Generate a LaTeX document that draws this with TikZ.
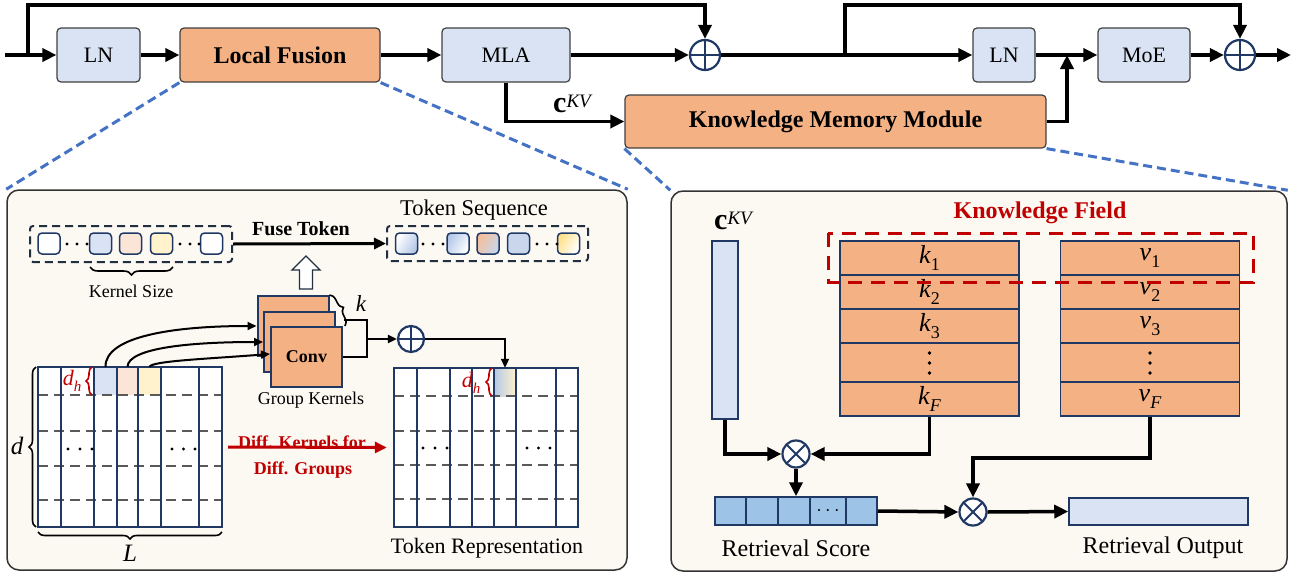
\RequirePackage{fix-cm}
\documentclass[tikz,border=0pt]{standalone}
\usepackage{fontspec}
\setmainfont{Liberation Serif}
\usetikzlibrary{arrows.meta,decorations.pathreplacing,calc}
\newcommand\myfs[1]{\fontsize{#1}{#1}\selectfont}
\newcommand\isub[3]{{\itshape #1}\raisebox{-0.28em}{\myfs{#3}#2}}
\newcommand\ckv[2]{{\bfseries\myfs{#1}c}\raisebox{0.42em}{\myfs{#2}\itshape KV}}
\definecolor{lorange}{HTML}{F4B183}
\definecolor{lblue}{HTML}{DAE3F3}
\definecolor{mblue}{HTML}{9DC3E6}
\definecolor{navy}{HTML}{1F3864}
\definecolor{panelbg}{HTML}{FCF8F2}
\definecolor{dred}{HTML}{C00000}
\definecolor{dblue}{HTML}{4472C4}
\definecolor{lpeach}{HTML}{FBE5D6}
\definecolor{lyellow}{HTML}{FFF2CC}
\definecolor{dgray}{HTML}{595959}
\definecolor{seqc}{HTML}{203040}
\definecolor{tblue}{HTML}{B4C7E7}
\definecolor{tblue2}{HTML}{C9D6EC}
\definecolor{tpeach}{HTML}{F5BE9B}
\definecolor{tyellow}{HTML}{FFE08A}
\begin{document}
\begin{tikzpicture}[x=1pt,y=-1pt,
  box/.style={draw=black!75, line width=1.2pt, rounded corners=4pt, inner sep=0pt, minimum height=54pt},
  bbox/.style={box, fill=lblue, font=\myfs{22}},
  obox/.style={box, fill=lorange, font=\bfseries\myfs{24}},
  fat/.style={line width=3.5pt, -{Triangle[length=14pt,width=13pt]}},
  med/.style={line width=3pt, -{Triangle[length=12pt,width=11pt]}},
  thinarr/.style={line width=2pt, -{Triangle[length=9pt,width=8pt]}},
  zoomline/.style={dblue, line width=3pt, dash pattern=on 9pt off 5pt},
  panel/.style={draw=black!80, line width=1.5pt, fill=panelbg, rounded corners=12pt, inner sep=0pt},
  oplus/.style={circle, draw=navy, line width=2.2pt, fill=white, inner sep=0pt, minimum size=#1,
    path picture={\draw[navy, line width=2.2pt] (path picture bounding box.north) -- (path picture bounding box.south) (path picture bounding box.west) -- (path picture bounding box.east);}},
  otimes/.style={circle, draw=navy, line width=2.2pt, fill=white, inner sep=0pt, minimum size=#1,
    path picture={\draw[navy, line width=2pt] (path picture bounding box.north west) -- (path picture bounding box.south east) (path picture bounding box.north east) -- (path picture bounding box.south west);}},
  tok/.style={draw=navy, line width=1.5pt, rounded corners=4pt, minimum width=22pt, minimum height=21pt, inner sep=0pt},
  seqbox/.style={draw=seqc, line width=2pt, dash pattern=on 8pt off 5pt, rounded corners=3pt, inner sep=0pt},
  convsq/.style={draw=navy, line width=2pt, fill=lorange, minimum width=71pt, minimum height=60pt, inner sep=0pt},
  cell/.style={minimum width=#1, minimum height=28pt, inner sep=0pt},
  gdash/.style={dgray, line width=2.5pt, dash pattern=on 10pt off 6pt},
  col/.style={navy, line width=2.5pt},
  lab/.style={font=\myfs{18}, inner sep=0pt},
  blab/.style={font=\myfs{22}, inner sep=0pt},
  rlab/.style={font=\myfs{24}, inner sep=0pt},
  brc/.style={decorate, decoration={brace, amplitude=#1}, line width=1.6pt},
  rbrc/.style={decorate, decoration={brace, amplitude=#1}, line width=1.6pt, dred},
  krow/.style={draw=navy, line width=1.2pt, fill=lorange, minimum width=179pt, inner sep=0pt, font=\myfs{26}}
]
\useasboundingbox (0,0) rectangle (1294,573);

% ---------- panels ----------
\node[panel, minimum width=620pt, minimum height=380pt] (lp) at (317,380) {};
\node[panel, minimum width=616pt, minimum height=380pt] (rp) at (979,381) {};

% ---------- top row ----------
\node[bbox, minimum width=83pt] (ln1) at (98.5,55) {LN};
\node[obox, minimum width=200pt] (lf) at (280,55) {Local Fusion};
\node[bbox, minimum width=128pt] (mla) at (506,55) {MLA};
\node[oplus=30pt] (p1) at (705,55) {};
\node[bbox, minimum width=62pt] (ln2) at (1004,55) {LN};
\node[bbox, minimum width=92pt] (moe) at (1144,55) {MoE};
\node[oplus=30pt] (p2) at (1240,55) {};
\node[obox, minimum width=421pt, minimum height=53pt] (kmm) at (835.5,121.5) {Knowledge Memory Module};
\coordinate (in) at (5,55);
\coordinate (br1) at (28,55);
\coordinate (top1) at (28,5);
\coordinate (br2) at (845,55);
\coordinate (top2) at (845,5);
\coordinate (jn) at (1067,55);
\coordinate (out) at (1291,55);

\draw[fat] (in) -- (ln1);
\draw[fat] (br1) -- (top1) -| (p1.north);
\draw[fat] (ln1) -- (lf);
\draw[fat] (lf) -- (mla);
\draw[fat] (mla) -- (p1);
\draw[fat] (p1) -- (ln2);
\draw[fat] (br2) -- (top2) -| (p2.north);
\draw[fat] (ln2) -- (moe);
\draw[fat] (moe) -- (p2);
\draw[fat] (p2) -- (out);
\draw[fat] (mla.south) |- (kmm.west);
\draw[fat] (kmm.east) -| (jn);
\node[inner sep=0pt] (ckv1) at (572,104) {\ckv{30}{19}};

% zoom lines
\draw[zoomline] (lf.south west) -- (lp.north west);
\draw[zoomline] (lf.south east) -- (lp.north east);
\draw[zoomline] (kmm.south west) -- (rp.north west);
\draw[zoomline] (kmm.south east) -- (rp.north east);

% ---------- left panel ----------
% input token sequence
\node[seqbox, minimum width=202pt, minimum height=36pt] (inseq) at (131,244) {};
\node[tok, fill=white] (t1) at (49,243.5) {};
\node[tok, fill=lblue] (t2) at (100.5,243.5) {};
\node[tok, fill=lpeach] (t3) at (130.5,243.5) {};
\node[tok, fill=lyellow] (t4) at (161.5,243.5) {};
\node[tok, fill=white] (t5) at (211.5,243.5) {};
\foreach \x in {67,77,87,180,190,199} \fill (\x,244) circle (1.6pt);
\draw[brc=8pt] (173,267) -- (90,267);
\node[lab] (ks) at (131,291) {Kernel Size};

% output token sequence
\node[seqbox, minimum width=201pt, minimum height=35pt] (outseq) at (487.5,243.5) {};
\node[tok, left color=white, right color=tblue, shading angle=60] (o1) at (406.5,243.5) {};
\node[tok, left color=tblue, right color=white, shading angle=60] (o2) at (458,243.5) {};
\node[tok, left color=tpeach, right color=tblue2, shading angle=60] (o3) at (488,243.5) {};
\node[tok, left color=tblue2, middle color=tpeach!60!tyellow, right color=tblue2, shading angle=60] (o4) at (518.5,243.5) {};
\node[tok, left color=tyellow, right color=white, shading angle=60] (o5) at (568.5,243.5) {};
\foreach \x in {423,433,443,537,547,557} \fill (\x,244) circle (1.6pt);
\node[blab, font=\myfs{22.5}] (tsl) at (474,210) {Token Sequence};

\draw[med] (inseq.east) -- (outseq.west);
\node[font=\bfseries\myfs{20}, inner sep=0pt] (fuse) at (301,229) {Fuse Token};

% hollow arrow
\draw[seqc, line width=1.3pt, fill=white] (299.5,289) -- (299.5,270) -- (292,270) -- (306,256) -- (320,270) -- (312.5,270) -- (312.5,289) -- cycle;

% conv stack
\node[convsq] (conv1) at (293,326) {};
\node[convsq] (conv2) at (299.5,342) {};
\node[convsq, font=\bfseries\myfs{18}] (conv3) at (306.5,357) {Conv};
\node[lab] (gk) at (311,400) {Group Kernels};
\draw[brc=7pt] (conv1.north east) -- ([xshift=2pt]conv3.north east);
\node[font=\myfs{23}\itshape, inner sep=0pt] (klab) at (361,304) {k};

\coordinate (cj) at (367,339);
\coordinate (cs) at (344,320);
\draw[line width=1.8pt] (cs) -| (cj) |- (conv3.east);
\node[oplus=26pt] (p3) at (411,339) {};
\draw[thinarr] (cj) -- (p3.west);

% left matrix
\node[minimum width=184pt, minimum height=160pt, inner sep=0pt, fill=white] (mL) at (130,447) {};
\node[cell=23pt, fill=lblue] (c3) at (105.5,381) {};
\node[cell=21pt, fill=lpeach] (c4) at (127.5,381) {};
\node[cell=23pt, fill=lyellow] (c5) at (149.5,381) {};
\foreach \y in {395,431,466,500} \draw[gdash] (38,\y) -- (222,\y);
\foreach \x in {61,94,117,138,161,199} \draw[col] (\x,367) -- (\x,527);
\draw[col] (mL.north west) rectangle (mL.south east);
\foreach \x in {68,80,92,172,183.5,195} \fill (\x,449) circle (1.7pt);
\draw[rbrc=6pt] (92,395) -- (92,367);
\node[font=\myfs{22}, text=dred, inner sep=0pt] (dh1) at (72,381) {\isub{d}{\itshape h}{15}};
\draw[brc=7pt] (36,527) -- (36,367);
\node[font=\myfs{25}\itshape, inner sep=0pt] (dlab) at (17,446) {d};
\draw[brc=7pt] (222,532) -- (38,532);
\node[font=\myfs{25}\itshape, inner sep=0pt] (Llab) at (130,553) {L};

% curved arrows into conv
\draw[thinarr] (c3.north) .. controls (105,336) and (175,326) .. (conv1.west);
\draw[thinarr] (c4.north) .. controls (128,348) and (190,342) .. (conv2.west);
\draw[thinarr] (c5.north) .. controls (152,361) and (205,359) .. ([yshift=3pt]conv3.west);

% right matrix
\node[minimum width=184pt, minimum height=159pt, inner sep=0pt, fill=white] (mR) at (486,447.5) {};
\node[cell=22pt, left color=tblue, middle color=lpeach, right color=lyellow] (r5) at (505,382) {};
\foreach \y in {396,431,465,499} \draw[gdash] (394,\y) -- (578,\y);
\foreach \x in {417,450,472,494,516,556} \draw[col] (\x,368) -- (\x,527);
\draw[col] (mR.north west) rectangle (mR.south east);
\foreach \x in {423,435,447,527,538.5,550} \fill (\x,448) circle (1.7pt);
\draw[rbrc=6pt] (492,396) -- (492,368);
\node[font=\myfs{22}, text=dred, inner sep=0pt] (dh2) at (471,383) {\isub{d}{\itshape h}{15}};
\node[blab] (trl) at (487,548) {Token Representation};

\draw[thinarr] (p3.east) -| (r5.north);

% red arrow
\draw[dred, line width=3pt, -{Triangle[length=12pt,width=11pt]}] ([xshift=6pt]mL.east) -- ([xshift=-7pt]mR.west);
\node[font=\bfseries\myfs{18}, text=dred, inner sep=0pt] (dk1) at (302,442) {Diff. Kernels for};
\node[font=\bfseries\myfs{18}, text=dred, inner sep=0pt] (dk2) at (303,470) {Diff. Groups};

% ---------- right panel ----------
\node[inner sep=0pt] (ckv2) at (733,221) {\ckv{30}{19}};
\node[draw=navy, line width=1.5pt, fill=lblue, minimum width=26pt, minimum height=178pt, inner sep=0pt] (cbar) at (725,330) {};

\node[krow, minimum height=34pt] (k1) at (929.5,258) {\isub{k}{1}{18}};
\node[krow, minimum height=34pt] (k2) at (929.5,292) {\isub{k}{2}{18}};
\node[krow, minimum height=34pt] (k3) at (929.5,326) {\isub{k}{3}{18}};
\node[krow, minimum height=39pt] (kd) at (929.5,362.5) {};
\node[krow, minimum height=34pt] (kF) at (929.5,399) {\isub{k}{\itshape F}{18}};
\node[krow, minimum height=34pt] (v1) at (1150,258) {\isub{v}{1}{18}};
\node[krow, minimum height=34pt] (v2) at (1150,292) {\isub{v}{2}{18}};
\node[krow, minimum height=34pt] (v3) at (1150,326) {\isub{v}{3}{18}};
\node[krow, minimum height=39pt] (vd) at (1150,362.5) {};
\node[krow, minimum height=34pt] (vF) at (1150,399) {\isub{v}{\itshape F}{18}};
\foreach \x in {929.5,1150} \foreach \y in {353,363,373} \fill (\x,\y) circle (1.8pt);

\node[font=\bfseries\myfs{24}, text=dred, inner sep=0pt] (kfl) at (1040,213) {Knowledge Field};
\draw[dred, line width=3pt, dash pattern=on 14pt off 9pt] (828,233) rectangle (1253,282);

\node[otimes=27pt] (x1) at (796,454) {};
\node[otimes=27pt] (x2) at (973,512) {};

\foreach \n/\a/\b in {1/715/746,2/746/778,3/778/810,4/810/846,5/846/877}
  \node[draw=navy, line width=1.5pt, fill=mblue, minimum height=28pt, minimum width={(\b-\a)*1pt}, inner sep=0pt] (s\n) at ({(\a+\b)/2},511) {};
\node[font=\myfs{20}, inner sep=0pt] (sdots) at (s4) {$\cdots$};
\node[draw=navy, line width=1.5pt, fill=lblue, minimum width=179pt, minimum height=27pt, inner sep=0pt] (ob) at (1158.5,511.5) {};

\draw[fat] (cbar.south) |- (x1.west);
\draw[fat] (kF.south) |- (x1.east);
\draw[fat] (x1.south) -- (x1.south |- s3.north);
\draw[fat] (s5.east) -- (x2.west);
\coordinate (vturn) at (1150,458);
\draw[fat] (vF.south) -- (vturn) -| (x2.north);
\draw[fat] (x2.east) -- (ob.west);

\node[rlab] (rsl) at (796,548) {Retrieval Score};
\node[rlab] (rol) at (1163,548) {Retrieval Output};
\end{tikzpicture}
\end{document}
